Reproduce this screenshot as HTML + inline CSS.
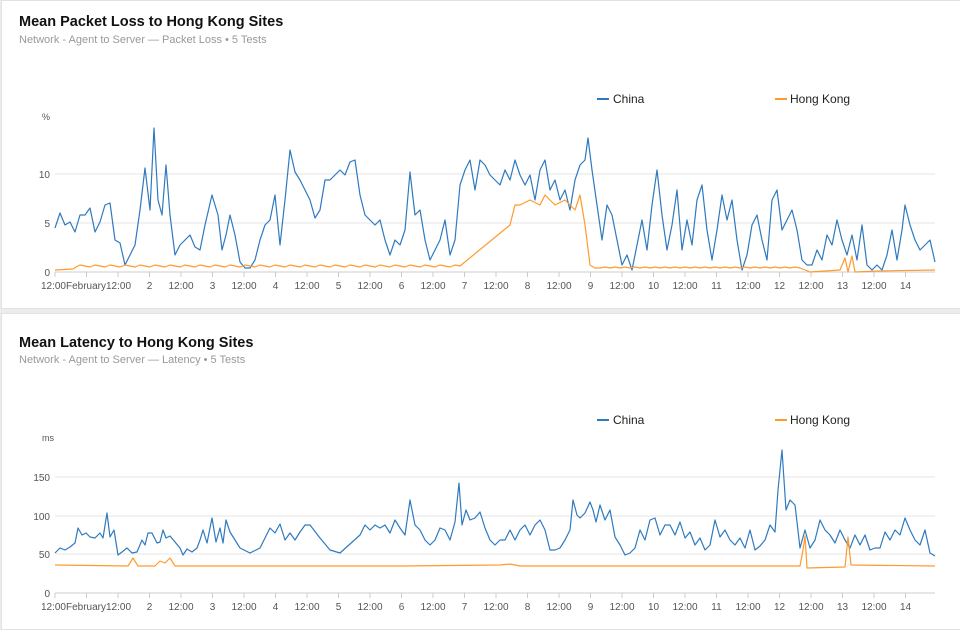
<!DOCTYPE html>
<html><head><meta charset="utf-8"><style>
body{margin:0;background:#ececec;font-family:"Liberation Sans",Arial,sans-serif;}
.card{position:absolute;left:1px;width:958px;background:#fff;border:1px solid #e2e2e2;}
svg{position:absolute;left:0;top:0}
</style></head><body>
<div class="card" style="top:0;height:307px"></div>
<div class="card" style="top:313px;height:315px"></div>
<svg width="960" height="629" id="s" font-family="Liberation Sans, Arial, sans-serif">
<text x="19" y="26" font-size="14.5" font-weight="bold" fill="#111">Mean Packet Loss to Hong Kong Sites</text>
<text x="19" y="43" font-size="11" fill="#999">Network - Agent to Server — Packet Loss • 5 Tests</text>
<text x="19" y="347" font-size="14.5" font-weight="bold" fill="#111">Mean Latency to Hong Kong Sites</text>
<text x="19" y="363" font-size="11" fill="#999">Network - Agent to Server — Latency • 5 Tests</text>
<g font-size="12" fill="#222">
<line x1="597" y1="99" x2="609" y2="99" stroke="#2f7abf" stroke-width="2"/><text x="613" y="103">China</text>
<line x1="775" y1="99" x2="787" y2="99" stroke="#ff9a2e" stroke-width="2"/><text x="790" y="103">Hong Kong</text>
<line x1="597" y1="420" x2="609" y2="420" stroke="#2f7abf" stroke-width="2"/><text x="613" y="424">China</text>
<line x1="775" y1="420" x2="787" y2="420" stroke="#ff9a2e" stroke-width="2"/><text x="790" y="424">Hong Kong</text>
</g>
<g id="ax"></g>
</svg>
<script>
var NS="http://www.w3.org/2000/svg",ax=document.getElementById('ax');
function el(t,a,txt){var e=document.createElementNS(NS,t);for(var k in a)e.setAttribute(k,a[k]);if(txt!=null)e.textContent=txt;ax.appendChild(e);return e;}
var labs=["12:00","February","12:00","2","12:00","3","12:00","4","12:00","5","12:00","6","12:00","7","12:00","8","12:00","9","12:00","10","12:00","11","12:00","12","12:00","13","12:00","14"];
function axes(y0,grids,unit,uy){
 grids.forEach(function(g){el('line',{x1:55,x2:935,y1:g[0],y2:g[0],stroke:g[1]=="0"?"#ccc":"#e6e6e6"});
  el('text',{x:50,y:g[0]+4,'font-size':10,fill:'#555','text-anchor':'end'},g[1]);});
 el('text',{x:42,y:uy,'font-size':9,fill:'#555'},unit);
 for(var i=0;i<labs.length;i++){var x=55+i*31.5;el('line',{x1:x,x2:x,y1:y0,y2:y0+5,stroke:'#ccc'});
  var a={x:x,y:y0+17,'font-size':10,fill:'#555','text-anchor':'middle'};
  if(i==0){a.x=66;a['text-anchor']='end';}
  if(i==1){a.x=66;a['text-anchor']='start';}
  if(i==2){a.x=106;a['text-anchor']='start';}
  el('text',a,labs[i]);}
}
axes(272,[[174,"10"],[223,"5"],[272,"0"]],"%",120);
axes(593,[[477,"150"],[516,"100"],[554,"50"],[593,"0"]],"ms",441);
function pl(s,c){el('polyline',{points:s,fill:'none',stroke:c,'stroke-width':1.2,'stroke-linejoin':'round'});}
pl("55,228 60,213 65,225 70,222 75,232 80,215 85,215 90,208 95,232 100,222 105,205 110,203 115,240 120,243 125,265 130,255 135,245 140,210 145,168 150,210 154,128 158,200 162,215 166,165 170,215 175,255 180,245 185,240 190,235 195,247 200,250 205,225 212,195 218,215 222,250 226,235 230,215 235,235 240,262 245,268 250,268 255,260 260,240 265,225 270,220 275,195 280,245 285,200 290,150 295,172 300,180 305,190 310,200 315,218 320,210 325,180 330,180 335,175 340,170 345,175 350,162 355,160 360,195 365,215 370,220 375,225 380,220 385,240 390,255 395,240 400,245 405,230 410,172 415,215 420,210 425,240 430,260 435,250 440,240 445,220 450,255 455,240 460,185 465,170 470,160 475,190 480,160 485,165 490,175 495,180 500,185 505,170 510,180 515,160 520,175 525,185 530,175 535,200 540,170 545,160 550,190 555,180 560,200 565,190 570,210 575,180 580,165 585,160 588,138 592,170 597,205 602,240 607,205 612,215 617,240 622,265 627,255 632,270 637,245 642,220 647,250 652,205 657,170 662,215 667,250 672,225 677,190 682,250 687,220 692,245 697,200 702,185 707,230 712,260 717,230 722,195 727,220 732,200 737,240 742,270 747,255 752,225 757,215 762,240 767,260 772,200 777,190 782,230 787,220 792,210 797,230 802,260 807,265 812,265 817,250 822,260 827,235 832,245 837,220 842,240 847,255 852,235 857,260 862,225 867,265 872,270 877,265 882,270 887,255 892,230 897,260 902,230 905,205 910,225 915,240 920,250 925,245 930,240 935,262","#2f7abf");
var h="55,270 73,269 76,267 ";for(var x=80;x<=460;x+=5)h+=x+","+(267-((x*7)%3))+" ";
h+="510,225 515,205 520,205 530,200 540,205 545,195 555,205 565,200 575,210 580,195 585,225 590,265 595,268 ";
for(x=600;x<=800;x+=5)h+=x+","+(268-((x*3)%2))+" ";
h+="805,270 810,272 840,270 845,258 848,272 852,256 855,272 880,271 935,270";
pl(h,"#ff9a2e");
pl("55,553 60,548 65,550 70,547 75,543 78,528 82,535 86,533 90,537 95,538 100,533 103,538 107,513 110,537 114,530 118,555 122,552 127,548 132,553 137,552 142,540 145,545 148,533 152,533 157,543 160,542 163,530 166,538 170,536 175,542 180,548 183,555 187,549 192,552 197,548 200,540 203,530 207,543 212,518 216,542 220,528 223,543 226,520 230,532 240,548 250,553 260,548 270,528 275,533 280,524 285,540 290,533 295,540 300,532 305,525 310,525 320,538 330,550 340,553 350,544 360,535 365,525 370,530 375,525 380,528 385,525 390,533 395,520 400,528 405,535 410,500 415,525 420,530 425,540 430,545 435,540 440,528 445,530 450,540 455,522 459,483 462,525 466,510 470,520 475,518 480,512 485,528 490,540 495,545 500,540 505,540 510,530 515,540 520,530 525,525 530,535 535,525 540,520 545,530 550,550 555,550 560,548 565,540 570,530 573,500 577,515 580,518 585,513 590,502 593,510 596,522 600,505 605,520 610,510 615,537 620,545 625,555 630,553 635,548 640,530 645,540 650,520 655,518 660,535 665,525 670,525 675,535 680,522 685,538 690,532 695,545 700,538 705,550 710,545 715,520 720,537 725,530 730,540 735,545 740,538 745,548 750,530 755,550 760,546 765,540 770,525 775,532 778,490 782,450 786,510 790,500 795,505 800,548 805,530 810,548 815,540 820,520 825,530 830,535 835,543 840,530 845,540 850,548 855,535 860,545 865,535 870,550 875,548 880,548 885,532 890,540 895,530 900,535 905,518 910,530 915,540 920,545 925,530 930,553 935,556","#2f7abf");
pl("55,565 128,566 133,558 138,566 155,566 160,561 165,563 170,558 175,566 300,566 400,566 500,565 510,564 520,566 700,566 800,566 803,550 805,536 807,568 845,567 848,537 851,565 935,566","#ff9a2e");
</script>
</body></html>
